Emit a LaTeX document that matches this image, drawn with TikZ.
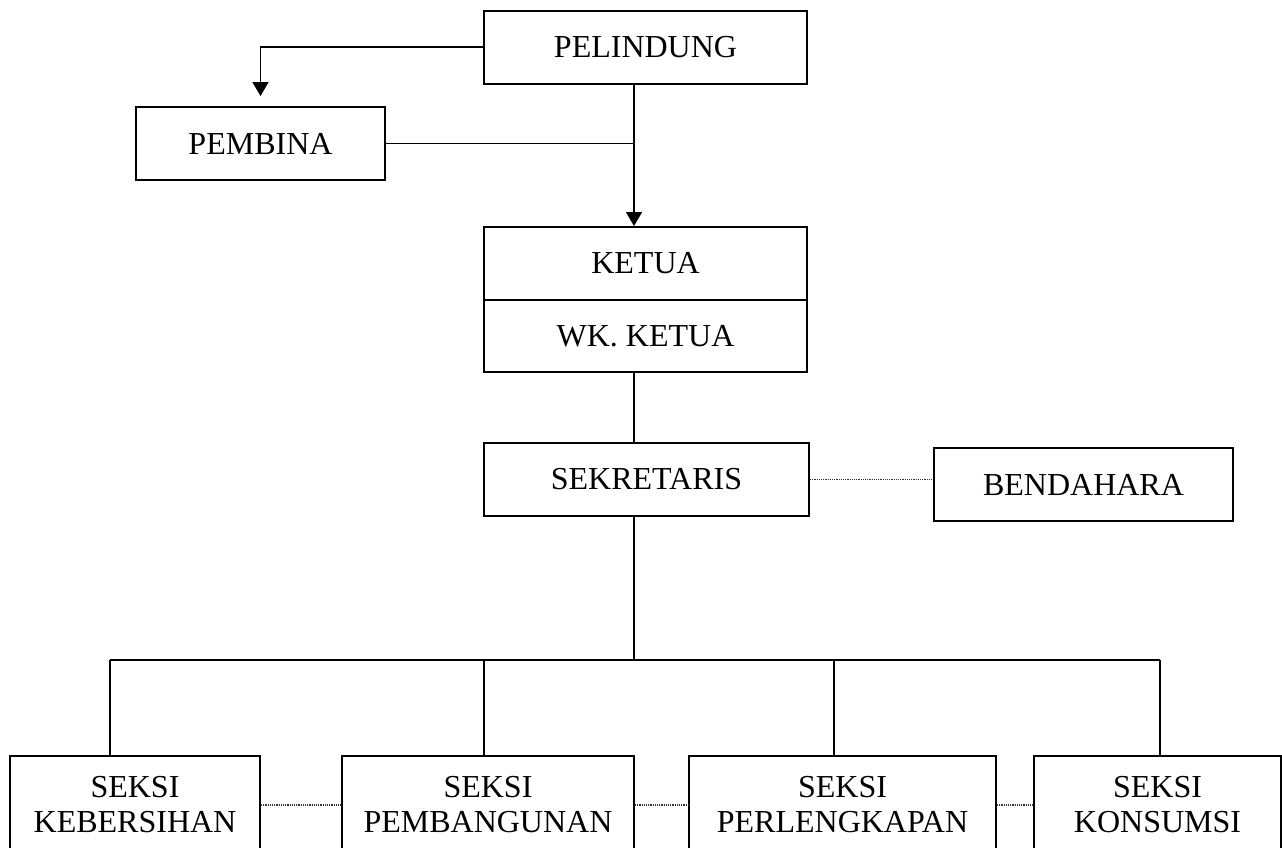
\documentclass[tikz,border=0pt]{standalone}
\usepackage{fontspec}
\setmainfont{Liberation Serif}
\usepackage{tikz}
\usetikzlibrary{arrows.meta, positioning}

\begin{document}
\begin{tikzpicture}[
        x=1pt, y=-1pt,
        box/.style={rectangle, draw, line width=2pt, inner sep=0pt,
                    minimum height=73pt, align=center,
                    font=\fontsize{32}{35}\selectfont},
        sub/.style={box, minimum height=98pt},
        lin/.style={line width=1.8pt},
        arr/.style={-{Triangle[length=14pt, width=16pt]}, line width=1.8pt},
        dot/.style={black!80, line width=1.2pt, dash pattern=on 1.2pt off 1pt},
      ]
        \useasboundingbox (0,0) rectangle (1282,847);

        % ── top ──
        \node[box, minimum width=323pt] (pel)   at (645.5, 47)    {PELINDUNG};
        \node[box, minimum width=249pt] (pemb)  at (260.5, 143.5) {PEMBINA};
        \node[box, minimum width=323pt] (ketua) at (645.5, 263.5) {KETUA};
        \node[box, minimum width=323pt, minimum height=72pt]
                                        (wk)    at (645.5, 336)   {WK. KETUA};
        \node[box, minimum width=325pt] (sek)   at (646.5, 479.5) {SEKRETARIS};
        \node[box, minimum width=299pt] (bend)  at (1083.5, 484.5) {BENDAHARA};

        \coordinate (trunk) at (634, 0);

        \draw[arr] (pel.west) -| ([yshift=10pt]pemb.north);
        \draw[arr] (pel.south -| trunk) -- (ketua.north -| trunk);
        \draw[lin] (pemb.east) -- (pemb.east -| trunk);
        \draw[lin] (wk.south -| trunk) -- (sek.north -| trunk);
        \draw[dot] (sek.east) -- (sek.east -| bend.west);

        % ── seksi ──
        \node[sub, minimum width=250pt] (keb) at (135, 805)    {SEKSI\\KEBERSIHAN};
        \node[sub, minimum width=292pt] (pbg) at (488, 805)    {SEKSI\\PEMBANGUNAN};
        \node[sub, minimum width=307pt] (plk) at (842.5, 805)  {SEKSI\\PERLENGKAPAN};
        \node[sub, minimum width=247pt] (kon) at (1157.5, 805) {SEKSI\\KONSUMSI};

        \coordinate (b1) at (110, 660);
        \coordinate (b2) at (484, 660);
        \coordinate (b3) at (834, 660);
        \coordinate (b4) at (1160, 660);

        \draw[lin] (sek.south -| trunk) -- (trunk |- b1);
        \draw[lin] (b1) -- (b4);
        \draw[lin] (b1) -- (keb.north -| b1);
        \draw[lin] (b2) -- (pbg.north -| b2);
        \draw[lin] (b3) -- (plk.north -| b3);
        \draw[lin] (b4) -- (kon.north -| b4);

        \draw[dot] (keb.east) -- (pbg.west);
        \draw[dot] (pbg.east) -- (plk.west);
        \draw[dot] (plk.east) -- (kon.west);
      \end{tikzpicture}
\end{document}
